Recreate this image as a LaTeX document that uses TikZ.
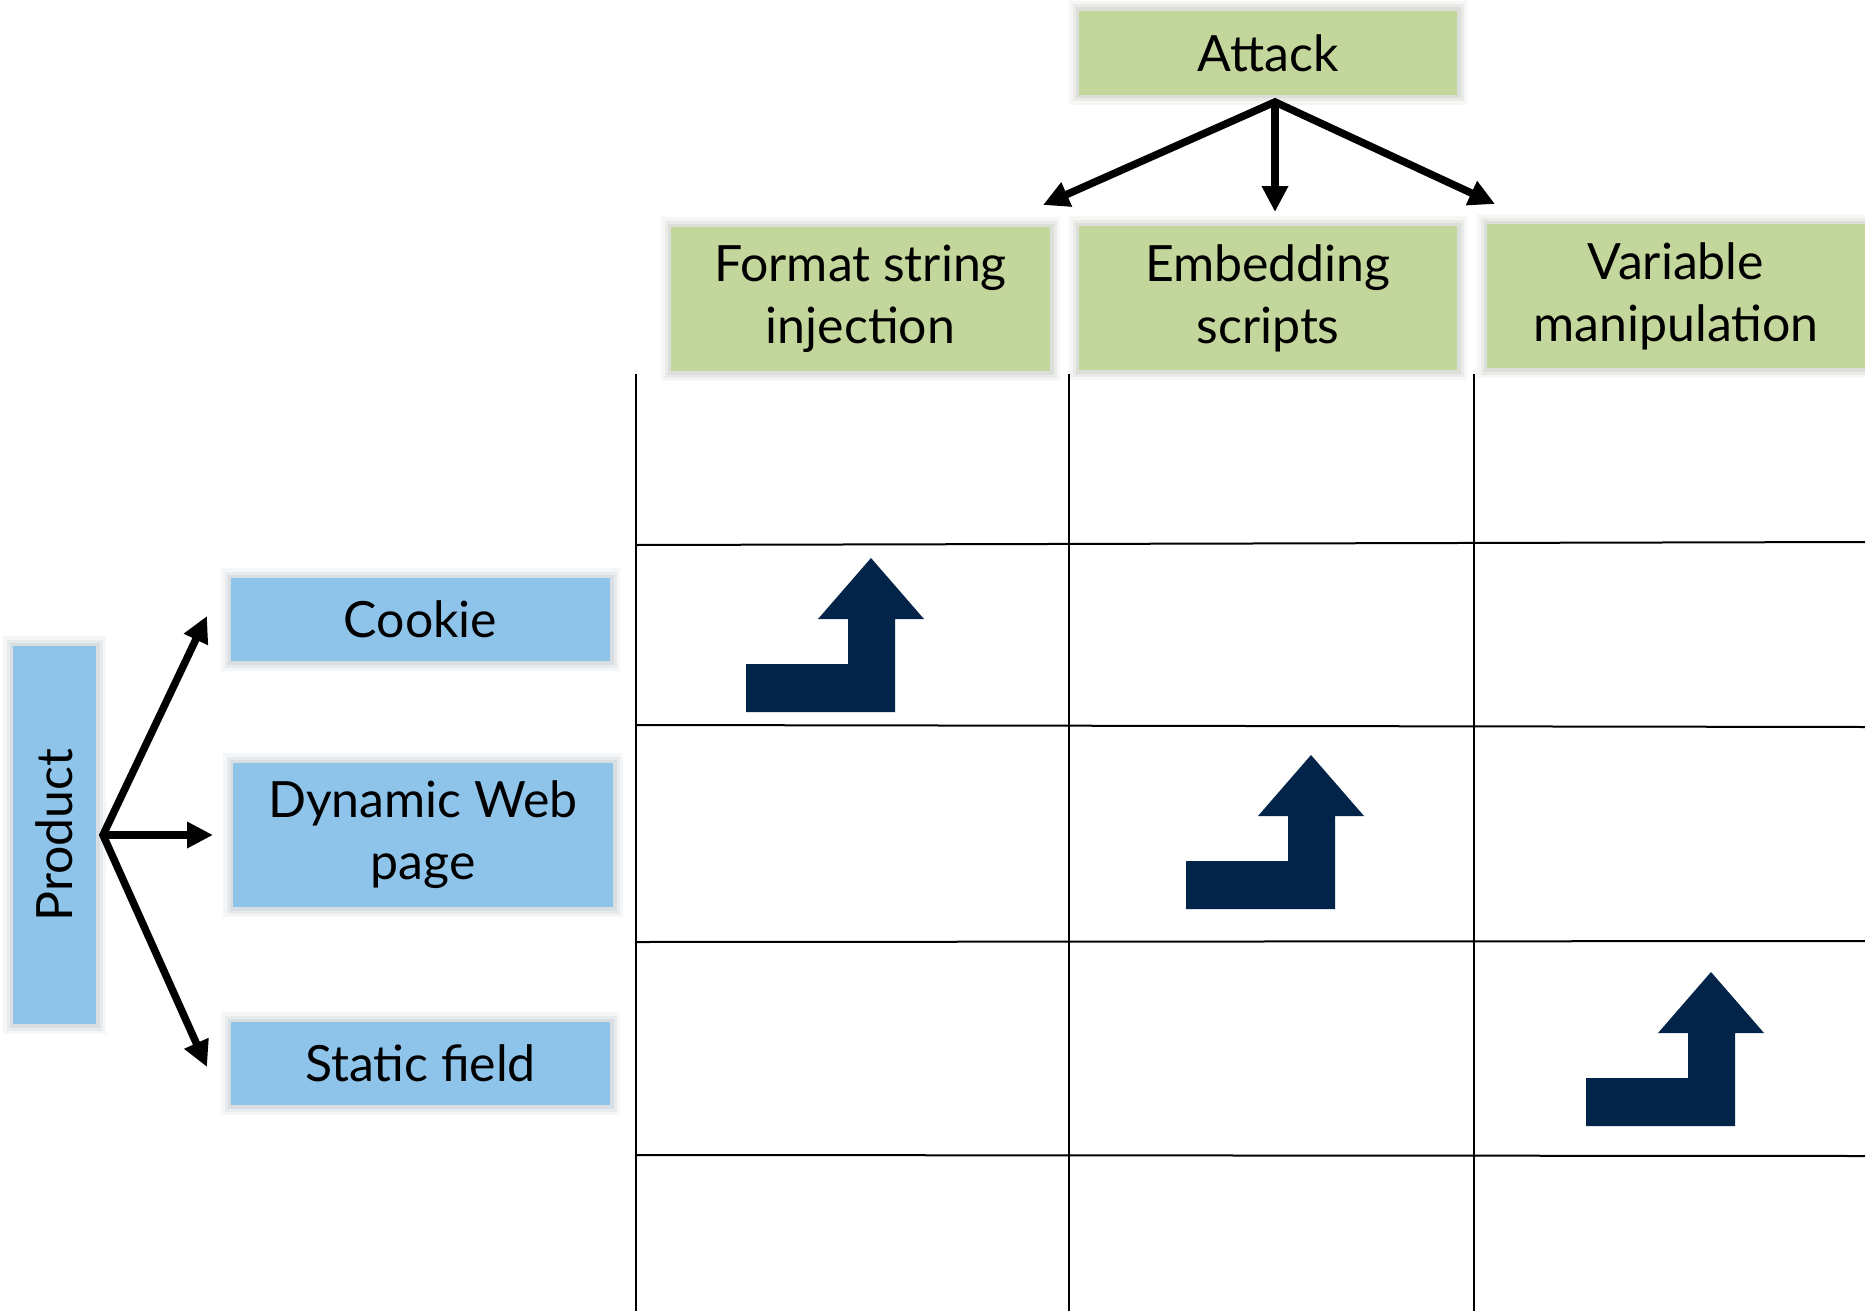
\documentclass[tikz,border=0pt]{standalone}
\usepackage{fontspec}
\setmainfont{Lato}
\usetikzlibrary{arrows.meta}
\definecolor{attackgreen}{RGB}{195,214,155}
\definecolor{productblue}{RGB}{142,196,234}
\definecolor{navyfill}{RGB}{2,36,72}
\tikzset{
  % soft glow around a box, built from stacked translucent strokes
  halo/.style={
    preaction={draw=#1, draw opacity=0.05, line width=20pt},
    preaction={draw=#1, draw opacity=0.07, line width=13pt},
    preaction={draw=#1, draw opacity=0.09, line width=7pt}},
  labelbox/.style={draw=none, inner sep=0pt, align=center,
    font=\fontsize{50}{62}\selectfont},
  greenbox/.style={labelbox, halo=attackgreen!45!black, fill=attackgreen},
  bluebox/.style={labelbox, halo=productblue!50!black, fill=productblue},
  forkarrow/.style={line width=7.5pt, line join=miter},
  gridline/.style={line width=2pt},
  bentup/.pic={
    \fill[navyfill] (0,0) -- (102,0) -- (102,-45) -- (72,-45) -- (125,-106)
      -- (178,-45) -- (149,-45) -- (149,48) -- (0,48) -- cycle;
  }
}
\begin{document}
\begin{tikzpicture}[x=1pt,y=-1pt]
\useasboundingbox[fill=white] (0,0) rectangle (1865,1311);

% attack categories
\node[greenbox, minimum width=378pt, minimum height=84pt] (attack) at (1268,53) {Attack};
\node[greenbox, minimum width=379pt, minimum height=144pt] (fmt) at (860.5,299) {Format string\\injection};
\node[greenbox, minimum width=378pt, minimum height=144pt] (emb) at (1268,298) {Embedding\\scripts};
\node[greenbox, minimum width=378pt, minimum height=144pt] (var) at (1676,296) {Variable\\manipulation};

% product categories
\node[bluebox, rotate=90, minimum width=378pt, minimum height=83pt] (product) at (54.5,835) {Product};
\node[bluebox, minimum width=379pt, minimum height=83pt] (cookie) at (420.5,619.5) {Cookie};
\node[bluebox, minimum width=380pt, minimum height=144pt] (dyn) at (423,835) {Dynamic Web\\page};
\node[bluebox, minimum width=379pt, minimum height=83pt] (static) at (420.5,1063.5) {Static field};

% fork points and arrow ends
\coordinate (afork) at (1275,102);
\coordinate (tipF) at (1043,205);
\coordinate (tipE) at (1275,212);
\coordinate (tipV) at (1495,204);
\coordinate (pfork) at (103,835);
\coordinate (tipC) at (207,616);
\coordinate (tipD) at (213,835);
\coordinate (tipS) at (207,1067);

\draw[forkarrow, {Triangle[length=26pt,width=25pt]}-{Triangle[length=26pt,width=25pt]}]
  (tipF) -- (afork) -- (tipV);
\draw[forkarrow, -{Triangle[length=26pt,width=25pt]}] (afork) -- (tipE);
\draw[forkarrow, {Triangle[length=26pt,width=25pt]}-{Triangle[length=26pt,width=25pt]}]
  (tipC) -- (pfork) -- (tipS);
\draw[forkarrow, -{Triangle[length=26pt,width=25pt]}] (pfork) -- (tipD);

% matrix grid
\draw[gridline] (636,374) -- (636,1311);
\draw[gridline] (1069,374) -- (1069,1311);
\draw[gridline] (1474,374) -- (1474,1311);
\draw[gridline] (636,545) -- (1865,542);
\draw[gridline] (636,725) -- (1865,727);
\draw[gridline] (636,942) -- (1865,941);
\draw[gridline] (636,1155) -- (1865,1156);

% mapping markers
\pic at (746,664) {bentup};
\pic at (1186,861) {bentup};
\pic at (1586,1078) {bentup};
\end{tikzpicture}
\end{document}
